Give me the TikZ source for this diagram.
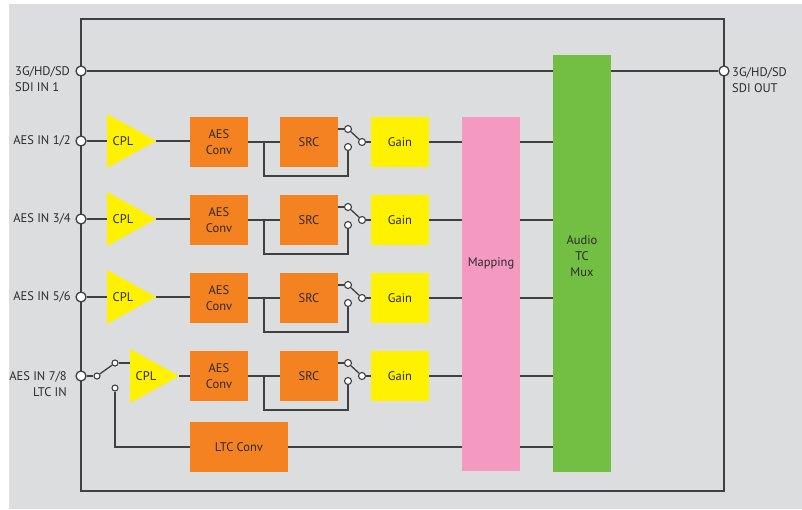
\documentclass[tikz,border=0pt]{standalone}
\usepackage{fontspec}
\setmainfont{PT Sans}
\pgfdeclarelayer{back}
\pgfdeclarelayer{lines}
\pgfsetlayers{back,lines,main}
\definecolor{bgc}{HTML}{DCDDDF}
\definecolor{lnc}{HTML}{404040}
\definecolor{txc}{HTML}{2B2B2B}
\definecolor{orc}{HTML}{F58220}
\definecolor{yec}{HTML}{FFF200}
\definecolor{pkc}{HTML}{F49AC1}
\definecolor{grc}{HTML}{72BF44}
\begin{document}
\begin{tikzpicture}[x=1pt,y=-1pt,
  font=\fontsize{12.5}{16}\selectfont, text=txc,
  wire/.style={draw=lnc, line width=1.3pt},
  frame/.style={draw=lnc, line width=1.6pt},
  blk/.style={minimum width=58pt, minimum height=50pt, inner sep=0pt, align=center},
  obox/.style={blk, fill=orc},
  ybox/.style={blk, fill=yec},
  port/.style={circle, draw=lnc, line width=1.3pt, fill=white, minimum size=10pt, inner sep=0pt},
  contact/.style={circle, draw=lnc, line width=1.1pt, fill=white, minimum size=7pt, inner sep=0pt},
  lbl/.style={inner sep=0pt}]
\useasboundingbox (0,0) rectangle (802,509);
\begin{pgfonlayer}{back}
\fill[bgc] (9,4) rectangle (802,509);
\end{pgfonlayer}
\begin{pgfonlayer}{lines}
\draw[frame] (81,19) rectangle (724,491);
\end{pgfonlayer}

% big blocks
\node[blk, fill=pkc, minimum height=354pt] (map) at (491,294) {};
\node[lbl] (maptxt) at (491,263) {Mapping};
\node[blk, fill=grc, minimum height=417pt] (mux) at (582,263.5) {};
\node[lbl, align=center] (muxtxt) at (582,256) {Audio\\TC\\Mux};

% SDI
\node[port] (sdiin) at (81,71) {};
\node[port] (sdiout) at (724,71) {};
\node[lbl, align=left, anchor=west] (sdiinl) at (15,79.5) {3G/HD/SD\\SDI IN 1};
\node[lbl, align=left, anchor=west] (sdioutl) at (732,80) {3G/HD/SD\\SDI OUT};

% rows
\foreach \i/\y in {1/142,2/220,3/298,4/376} {
  \node[obox] (aes\i) at (219,\y) {AES\\Conv};
  \node[obox] (src\i) at (309,\y) {SRC};
  \node[ybox] (gain\i) at (400,\y) {Gain};
  \node[contact] (up\i) at (348,\y-13) {};
  \node[contact] (com\i) at (362,\y) {};
  \node[contact] (lo\i) at (348,\y+5) {};
  \coordinate (j\i) at (264,\y);
  \coordinate (b\i) at (264,\y+34);
  \begin{pgfonlayer}{lines}
  \draw[wire] (aes\i) -- (src\i);
  \draw[wire] (src\i.east |- up\i) -- (up\i);
  \draw[wire] (up\i) -- (com\i);
  \draw[wire] (com\i) -- (gain\i);
  \draw[wire] (lo\i) |- (b\i) -- (j\i);
  \draw[wire] (gain\i.east) -- (gain\i.east -| map.west);
  \draw[wire] (gain\i.east -| map.east) -- (gain\i.east -| mux.west);
  \end{pgfonlayer}
}

% CPL rows 1-3
\foreach \i/\y/\t in {1/141/AES IN 1\slash 2,2/219/AES IN 3\slash 4,3/297/AES IN 5\slash 6} {
  \fill[yec] (107,\y-27) -- (107,\y+27) -- (156,\y) -- cycle;
  \coordinate (cpli\i) at (107,\y);
  \coordinate (cplo\i) at (156,\y);
  \node[lbl] (cpl\i) at (123,\y) {CPL};
  \node[port] (in\i) at (81,\y) {};
  \node[lbl, anchor=east] (inl\i) at (71,\y) {\t};
  \begin{pgfonlayer}{lines}
  \draw[wire] (in\i) -- (cpli\i);
  \draw[wire] (cplo\i) -- (aes\i.west |- cplo\i);
  \end{pgfonlayer}
}

% row 4 with LTC switch
\fill[yec] (130,349) -- (130,403) -- (179,376) -- cycle;
\coordinate (cpli4) at (130,363);
\coordinate (cplo4) at (179,376);
\node[lbl] (cpl4) at (146,376) {CPL};
\node[port] (in4) at (81,376) {};
\node[lbl, align=right, anchor=east] (inl4) at (67,384) {AES IN 7/8\\LTC IN};
\node[contact, minimum size=6pt] (swc) at (97,376) {};
\node[contact, minimum size=6pt] (swu) at (115,363) {};
\node[contact, minimum size=6pt] (swl) at (115,388) {};
\node[obox, minimum width=98pt] (ltc) at (239,447) {LTC Conv};
\begin{pgfonlayer}{lines}
\draw[wire] (in4) -- (swc);
\draw[wire] (swc) -- (swu);
\draw[wire] (swu) -- (cpli4);
\draw[wire] (cplo4) -- (aes4.west);
\draw[wire] (swl) |- (ltc.west);
\draw[wire] (ltc) -- (ltc -| mux.west);
\draw[wire] (sdiin) -- (sdiout);
\end{pgfonlayer}
\end{tikzpicture}
\end{document}
